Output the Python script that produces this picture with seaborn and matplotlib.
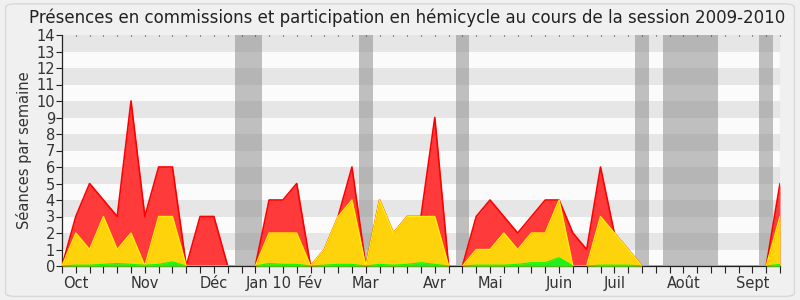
import matplotlib
matplotlib.use("Agg")
import matplotlib.pyplot as plt
import seaborn as sns
import numpy as np
import pandas as pd
from matplotlib.patches import FancyBboxPatch

# ---- data (weekly, session 2009-2010) ----
weeks = list(range(53))
presences = [0, 3, 5, 4, 3, 10, 3, 6, 6, 0, 3, 3, 0, 0, 0, 4, 4, 5, 0, 1, 3, 6, 0, 4, 2, 3, 3, 9, 0, 0,
             3, 4, 3, 2, 3, 4, 4, 2, 1, 6, 2, 1, 0, 0, 0, 0, 0, 0, 0, 0, 0, 0, 5]
hemicycle = [0, 2, 1, 3, 1, 2, 0, 3, 3, 0, 0, 0, 0, 0, 0, 2, 2, 2, 0, 1, 3, 4, 0, 4, 2, 3, 3, 3, 0, 0,
             1, 1, 2, 1, 2, 2, 4, 0, 0, 3, 2, 1, 0, 0, 0, 0, 0, 0, 0, 0, 0, 0, 3]
interventions = [0, 0.05, 0.05, 0.1, 0.15, 0.1, 0.05, 0.1, 0.25, 0, 0, 0, 0, 0, 0, 0.15, 0.1, 0.1, 0, 0.05,
                 0.1, 0.1, 0, 0.1, 0.05, 0.1, 0.2, 0.1, 0, 0, 0.05, 0.05, 0.05, 0.1, 0.2, 0.2, 0.5, 0, 0,
                 0.05, 0.05, 0.05, 0, 0, 0, 0, 0, 0, 0, 0, 0, 0, 0.1]
vacation_weeks = [13, 14, 22, 29, 42, 44, 45, 46, 47, 51]
month_labels = ["Oct", "Nov", "Déc", "Jan 10", "Fév", "Mar", "Avr", "Mai", "Juin", "Juil", "Août", "Sept"]
month_pos = [1, 6, 11, 15, 18, 22, 27, 31, 36, 40, 45, 50]
y_max = 14

df = pd.DataFrame({"week": weeks, "presences": presences,
                   "hemicycle": hemicycle, "interventions": interventions})

sns.set_theme(style="ticks")
plt.rcParams['font.family'] = ['DejaVu Sans']

fig = plt.figure(figsize=(8, 3), dpi=100, facecolor="#f0f0f0")
ax = fig.add_axes([62/800, 1-266/300, (780-62)/800, (266-35)/300])
ax.set_facecolor("#fbfbfb")

# frame
fig.patches.append(FancyBboxPatch((0.007, 0.012), 0.986, 0.975, boxstyle="round,pad=0,rounding_size=0.012",
                                  transform=fig.transFigure, facecolor="none", edgecolor="#d8d8d8",
                                  linewidth=1.0, zorder=0))

# horizontal bands
for k in range(1, y_max, 2):
    ax.axhspan(k, k+1, color="#e6e6e6", lw=0, zorder=0)

# vacation shading
for w in vacation_weeks:
    ax.axvspan(w-0.5, w+0.5, color="#858585", alpha=0.5, lw=0, zorder=1)

x = df["week"].to_numpy()
ax.fill_between(x, 0, df["presences"], color="#ff3a3a", lw=0, zorder=2)
sns.lineplot(data=df, x="week", y="presences", ax=ax, color="#ff0000", lw=1.2, zorder=3)
ax.fill_between(x, 0, df["hemicycle"], color="#ffd30c", lw=0, zorder=4)
sns.lineplot(data=df, x="week", y="hemicycle", ax=ax, color="#ffee00", lw=1.0, zorder=5)
ax.fill_between(x, 0, df["interventions"], color="#22ee22", lw=0, zorder=6)
sns.lineplot(data=df, x="week", y="interventions", ax=ax, color="#00ff00", lw=0.8, zorder=7)

ax.set_xlim(0, 52)
ax.set_ylim(0, y_max)
ax.set_yticks(range(0, y_max+1))
ax.set_yticklabels([str(v) for v in range(0, y_max+1)], fontsize=10.5, color="#333333")
ax.set_xticks(month_pos)
ax.set_xticklabels(month_labels, fontsize=10.5, color="#333333")
ax.set_xticks([w for w in weeks if w not in month_pos], minor=True)
ax.tick_params(axis="x", which="major", length=5, width=0.8, color="#222222", direction="out",
               bottom=True, top=False, pad=2)
ax.tick_params(axis="x", which="minor", length=5, width=0.8, color="#222222", direction="out",
               bottom=True, top=False)
ax.tick_params(axis="y", which="major", length=4, width=0.8, color="#222222", direction="out",
               left=True, right=False, pad=1)
ax.set_xlabel("")
ax.set_ylabel("Séances par semaine", fontsize=10.5, color="#333333", labelpad=3)

# top dotted ticks (inside)
for w in weeks:
    ax.plot([w, w], [y_max - 0.09, y_max], color="#333333", lw=0.8, zorder=9, clip_on=False,
            solid_capstyle="butt")

for s in ["top", "right"]:
    ax.spines[s].set_visible(False)
ax.spines["left"].set_color("#222222")
ax.spines["bottom"].set_color("#222222")
ax.spines["left"].set_linewidth(0.9)
ax.spines["bottom"].set_linewidth(0.9)
ax.axvline(52, color="#cccccc", lw=0.8, zorder=8)

fig.text(0.509, 0.942, "Présences en commissions et participation en hémicycle au cours de la session 2009-2010",
         ha="center", va="center", fontsize=12.0, color="#222222")

fig.savefig("out.png", dpi=100, facecolor=fig.get_facecolor())
